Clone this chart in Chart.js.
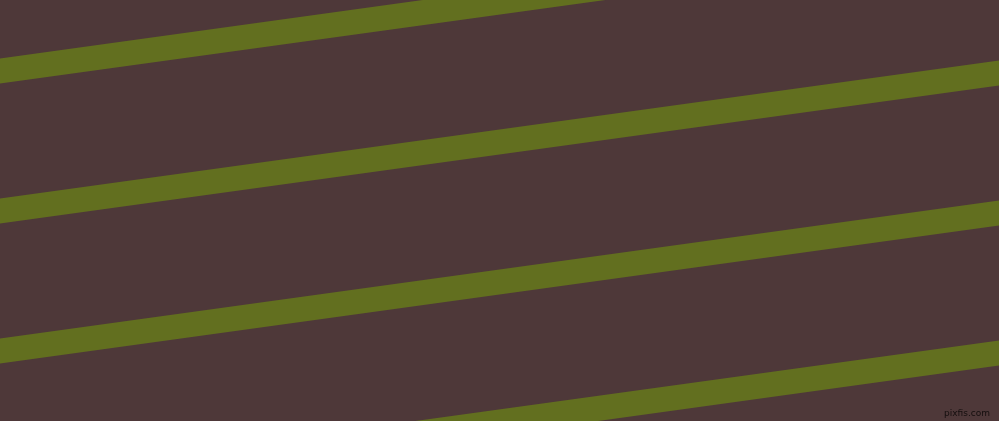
<!DOCTYPE html>
<html>
<head>
<meta charset="utf-8">
<script src="https://cdn.jsdelivr.net/npm/chart.js@4/dist/chart.umd.min.js"></script>
<style>
  html, body { margin: 0; padding: 0; background: #4e3839; overflow: hidden; }
  #wrap { position: relative; width: 999px; height: 421px; }
  #mark { position: absolute; right: 9px; bottom: 3px; font: 9px "DejaVu Sans", sans-serif; color: #140e0e; }
</style>
</head>
<body>
<div id="wrap">
  <canvas id="stripes"></canvas>
  <div id="mark">pixfis.com</div>
</div>
<script>
'use strict';
// x positions of the two ends of every stripe
let xEnds = [0, 999];
// stripe centre heights (px from top) at the left and right ends
let stripeOne = [71, -67];
let stripeTwo = [211, 73];
let stripeThree = [351, 213];
let stripeFour = [491, 353];
let stripeColor = '#626f1f';

function makeSet(ys) {
  let pts = [];
  for (let i = 0; i < xEnds.length; i++) {
    pts.push({x: xEnds[i], y: ys[i]});
  }
  return {
    data: pts,
    showLine: true,
    borderColor: stripeColor,
    borderWidth: 25,
    pointRadius: 0,
    borderCapStyle: 'square', // covers the corners at the edges, chart area clips the rest
    fill: false
  };
}

let context = document.getElementById('stripes').getContext('2d');
let chart = new Chart(context, {
  type: 'scatter',
  data: {
    datasets: [makeSet(stripeOne), makeSet(stripeTwo), makeSet(stripeThree), makeSet(stripeFour)]
  },
  options: {
    responsive: true,
    maintainAspectRatio: false,
    animation: false,
    layout: { padding: 0 },
    plugins: { legend: { display: false }, tooltip: { enabled: false } },
    scales: {
      x: { type: 'linear', min: 0, max: 999, display: false },
      y: { type: 'linear', min: 0, max: 421, reverse: true, display: false }
    }
  }
});
</script>
</body>
</html>
